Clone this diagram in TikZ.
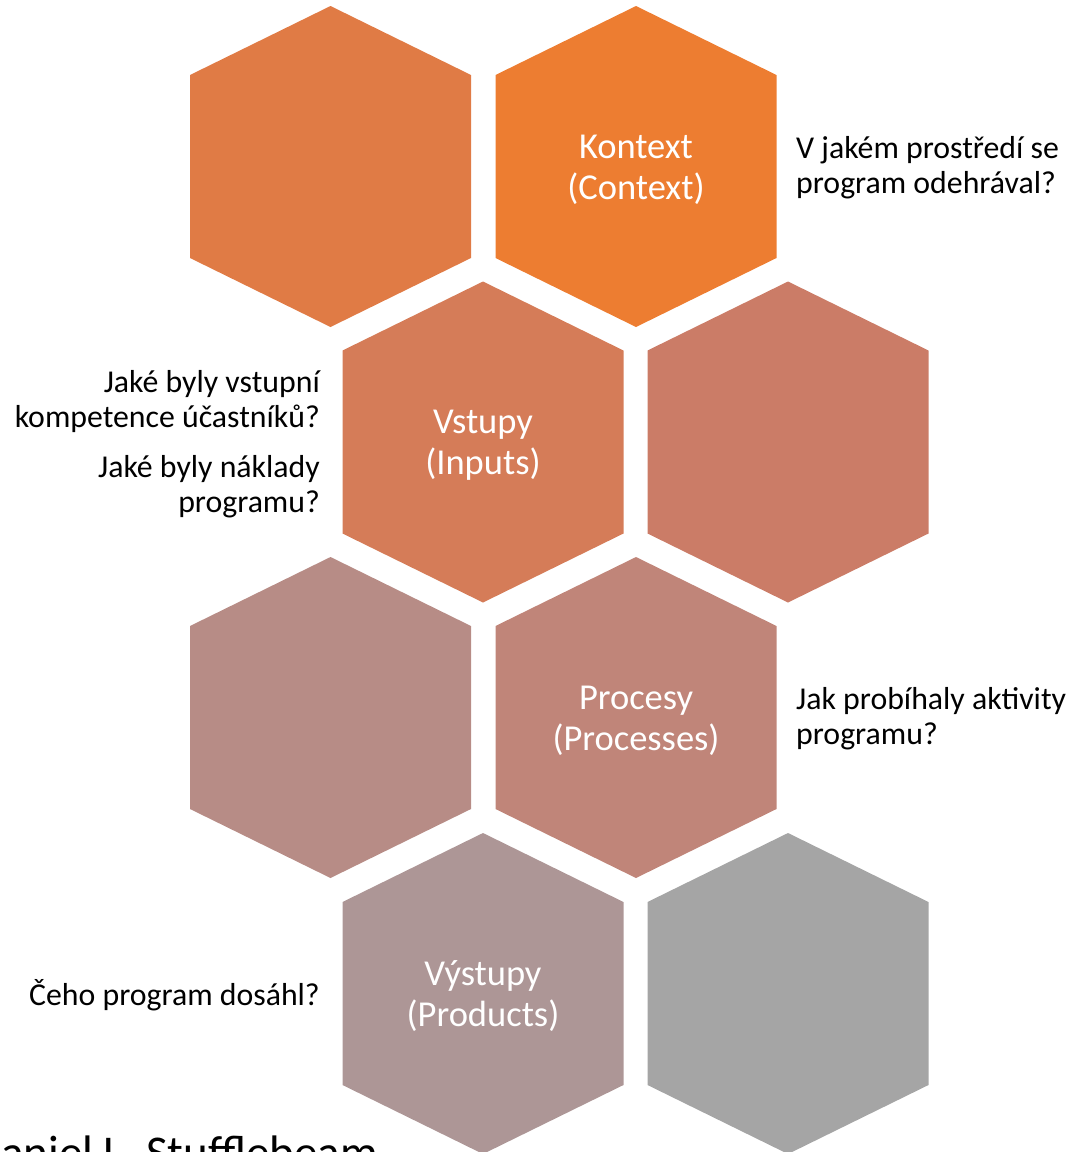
\documentclass[tikz,border=0pt]{standalone}
\usepackage{fontspec}
\setmainfont{Carlito}

\definecolor{hexOne}{RGB}{224,123,69}
\definecolor{hexContext}{RGB}{237,125,49}
\definecolor{hexInputs}{RGB}{213,124,88}
\definecolor{hexTwo}{RGB}{203,124,103}
\definecolor{hexThree}{RGB}{183,140,134}
\definecolor{hexProcess}{RGB}{192,133,121}
\definecolor{hexProducts}{RGB}{173,150,150}
\definecolor{hexGrey}{RGB}{165,165,165}

\tikzset{
  hexlabel/.style={text=white, align=center, inner sep=0pt,
    font=\fontsize{36.5}{41}\selectfont},
  sidenote/.style={text=black, inner sep=0pt,
    font=\fontsize{31.8}{35}\selectfont}
}
% one hexagon round a named centre
\newcommand{\hexcell}[2]{\fill[#2, shift={(#1)}] (0,-160.5) -- (140.5,-91.5) -- (140.5,91.5)
  -- (0,160.5) -- (-140.5,91.5) -- (-140.5,-91.5) -- cycle;}

\begin{document}
\begin{tikzpicture}[x=1pt,y=-1pt]
\useasboundingbox (0,0) rectangle (1072,1152);
\clip (0,0) rectangle (1072,1152);
% centres of the cells
\coordinate (c11) at (330.5,166.5); \coordinate (ctx) at (636,166.5);
\coordinate (inp) at (483,442);     \coordinate (c22) at (788,442);
\coordinate (c31) at (330.5,717.5); \coordinate (prc) at (636,717.5);
\coordinate (prd) at (483,993.5);   \coordinate (c42) at (788,993.5);
\hexcell{c11}{hexOne} \hexcell{ctx}{hexContext}
\hexcell{inp}{hexInputs} \hexcell{c22}{hexTwo}
\hexcell{c31}{hexThree} \hexcell{prc}{hexProcess}
\hexcell{prd}{hexProducts} \hexcell{c42}{hexGrey}
\node[hexlabel] (kontext) at ([yshift=-3pt]ctx) {Kontext\\(Context)};
\node[hexlabel] (vstupy) at ([yshift=-3pt]inp) {Vstupy\\(Inputs)};
\node[hexlabel] (procesy) at ([yshift=-3pt]prc) {Procesy\\(Processes)};
\node[hexlabel] (vystupy) at ([yshift=-3pt]prd) {Výstupy\\(Products)};
\node[sidenote, anchor=west, align=left] (qctx) at (796,168) {V jakém prostředí se\\program odehrával?};
\node[sidenote, anchor=east, align=right] (qinp) at (320,444)
  {Jaké byly vstupní\\kompetence účastníků?\\[15pt]Jaké byly náklady\\programu?};
\node[sidenote, anchor=west, align=left] (qprc) at (796,719) {Jak probíhaly aktivity\\programu?};
\node[sidenote, anchor=east] (qprd) at (320,995) {Čeho program dosáhl?};
\node[anchor=base west, inner sep=0pt, font=\fontsize{47}{50}\selectfont] (author) at (-28,1168) {Daniel L. Stufflebeam};
\end{tikzpicture}
\end{document}
